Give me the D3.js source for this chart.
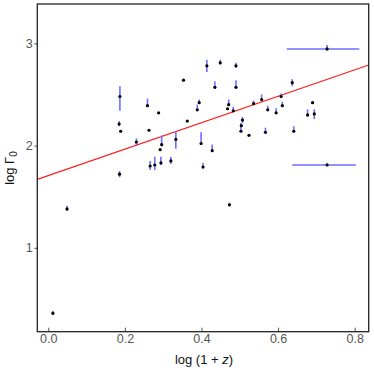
<!DOCTYPE html>
<html>
<head>
<meta charset="utf-8">
<script src="https://cdn.jsdelivr.net/npm/d3@7"></script>
<style>
  body { margin: 0; background: #fff; }
  svg { display: block; font-family: "Liberation Sans", Arial, sans-serif; }
</style>
</head>
<body>
<svg id="chart" width="374" height="374"></svg>
<script>
// log(1+z), log Gamma0 and the error ranges
const logZ   = [0.012, 0.049, 0.186, 0.187, 0.185, 0.189, 0.230, 0.259, 0.263, 0.288,
                0.266, 0.278, 0.294, 0.296, 0.292, 0.320, 0.333, 0.353, 0.363, 0.394,
                0.389, 0.399, 0.404, 0.414, 0.428, 0.435, 0.449, 0.468, 0.471, 0.483,
                0.473, 0.490, 0.490, 0.507, 0.504, 0.503, 0.524, 0.536, 0.557, 0.567,
                0.573, 0.595, 0.608, 0.611, 0.637, 0.641, 0.690, 0.677, 0.6945, 0.728, 0.728];
const logG   = [0.36, 1.38, 1.72, 2.48, 2.21, 2.14, 2.035, 2.39, 2.15, 2.32,
                1.80, 1.81, 1.83, 2.01, 1.96, 1.85, 2.06, 2.64, 2.24, 2.42,
                2.35, 2.02, 1.79, 2.78, 1.95, 2.57, 2.81, 2.36, 2.40, 2.34,
                1.42, 2.78, 2.57, 2.25, 2.195, 2.14, 2.10, 2.41, 2.45, 2.13,
                2.35, 2.32, 2.48, 2.39, 2.615, 2.14, 2.42, 2.30, 2.31, 2.945, 1.81];
const logGlo = [0.34, 1.36, 1.69, 2.34, 2.19, 2.13, 2.00, 2.38, null, null,
                1.76, 1.76, 1.81, 1.99, null, 1.82, 1.97, null, null, 2.41,
                2.35, 2.01, 1.78, 2.72, 1.94, 2.56, 2.79, null, 2.39, 2.33,
                1.41, 2.76, 2.56, 2.22, null, 2.14, null, 2.40, 2.44, 2.12,
                2.34, 2.31, 2.47, 2.38, 2.58, 2.13, null, 2.28, 2.26, 2.93, 1.80];
const logGhi = [0.38, 1.41, 1.75, 2.58, 2.24, 2.15, 2.07, 2.46, null, null,
                1.85, 1.89, 1.89, 2.10, null, 1.89, 2.14, null, null, 2.45,
                2.40, 2.13, 1.83, 2.84, 2.01, 2.63, 2.84, null, 2.45, 2.38,
                1.44, 2.81, 2.64, 2.28, null, 2.22, null, 2.44, 2.50, 2.175,
                2.39, 2.365, 2.51, 2.43, 2.65, 2.19, null, 2.355, 2.355, 2.985, 1.83];
// only the last two points have a horizontal range
const logZlo = {49: 0.6225, 50: 0.637};
const logZhi = {49: 0.812, 50: 0.803};

// straight-line fit: logG = a + b * logZ
const fitA = 1.707, fitB = 1.293;

const xTicks = [0, 0.2, 0.4, 0.6, 0.8];
const yTicks = [1, 2, 3];

const svg = d3.select("#chart");
const margin = {top: 4, right: 5.3, bottom: 42.3, left: 37.3};
const W = 374, H = 374;

const x = d3.scaleLinear().domain([-0.0287, 0.8366]).range([margin.left, W - margin.right]);
const y = d3.scaleLinear().domain([0.179, 3.385]).range([H - margin.bottom, margin.top]);

const pts = logZ.map((z, i) => ({z, g: logG[i], lo: logGlo[i], hi: logGhi[i],
  zlo: logZlo[i], zhi: logZhi[i]}));

const plot = svg.append("g");

// fit line
const xd = x.domain();
plot.append("line")
  .attr("x1", x(xd[0])).attr("y1", y(fitA + fitB * xd[0]))
  .attr("x2", x(xd[1])).attr("y2", y(fitA + fitB * xd[1]))
  .attr("stroke", "#ff2020").attr("stroke-width", 1.2);

// error bars
const errColor = "#6e6eff";
plot.selectAll("line.ey").data(pts.filter(d => d.lo != null))
  .join("line").attr("class", "ey")
  .attr("x1", d => x(d.z)).attr("x2", d => x(d.z))
  .attr("y1", d => y(d.lo)).attr("y2", d => y(d.hi))
  .attr("stroke", errColor).attr("stroke-width", 1.6);

plot.selectAll("line.ex").data(pts.filter(d => d.zlo != null))
  .join("line").attr("class", "ex")
  .attr("x1", d => x(d.zlo)).attr("x2", d => x(d.zhi))
  .attr("y1", d => y(d.g)).attr("y2", d => y(d.g))
  .attr("stroke", errColor).attr("stroke-width", 1.6);

// points
plot.selectAll("circle").data(pts).join("circle")
  .attr("cx", d => x(d.z)).attr("cy", d => y(d.g))
  .attr("r", 1.6).attr("fill", "#000");

// axes
const xAxis = svg.append("g")
  .attr("transform", `translate(0,${H - margin.bottom})`)
  .call(d3.axisBottom(x).tickValues(xTicks).tickFormat(d3.format(".1f"))
    .tickSizeInner(-4).tickSizeOuter(0).tickPadding(2.5));
const yAxis = svg.append("g")
  .attr("transform", `translate(${margin.left},0)`)
  .call(d3.axisLeft(y).tickValues(yTicks).tickFormat(d3.format("d"))
    .tickSizeInner(3).tickSizeOuter(0).tickPadding(1.5));

[xAxis, yAxis].forEach(a => {
  a.select(".domain").remove();
  a.selectAll("line").attr("stroke", "#555");
  a.selectAll("text").attr("fill", "#555").style("font-size", "12.5px")
    .style("font-family", "Liberation Sans, Arial, sans-serif");
});

// frame
svg.append("rect")
  .attr("x", margin.left).attr("y", margin.top)
  .attr("width", W - margin.left - margin.right)
  .attr("height", H - margin.top - margin.bottom)
  .attr("fill", "none").attr("stroke", "#222").attr("stroke-width", 1.3);

// axis titles
const xt = svg.append("text")
  .attr("x", (margin.left + W - margin.right) / 2 + 1).attr("y", 364)
  .attr("text-anchor", "middle").attr("fill", "#111").style("font-size", "13px");
xt.append("tspan").text("log (1 + ");
xt.append("tspan").attr("font-style", "italic").text("z");
xt.append("tspan").text(")");

const yt = svg.append("text")
  .attr("transform", "translate(14,168) rotate(-90)")
  .attr("text-anchor", "middle").attr("fill", "#111").style("font-size", "13px");
yt.append("tspan").text("log Γ");
yt.append("tspan").attr("dy", 3).style("font-size", "10px").text("0");
</script>
</body>
</html>
